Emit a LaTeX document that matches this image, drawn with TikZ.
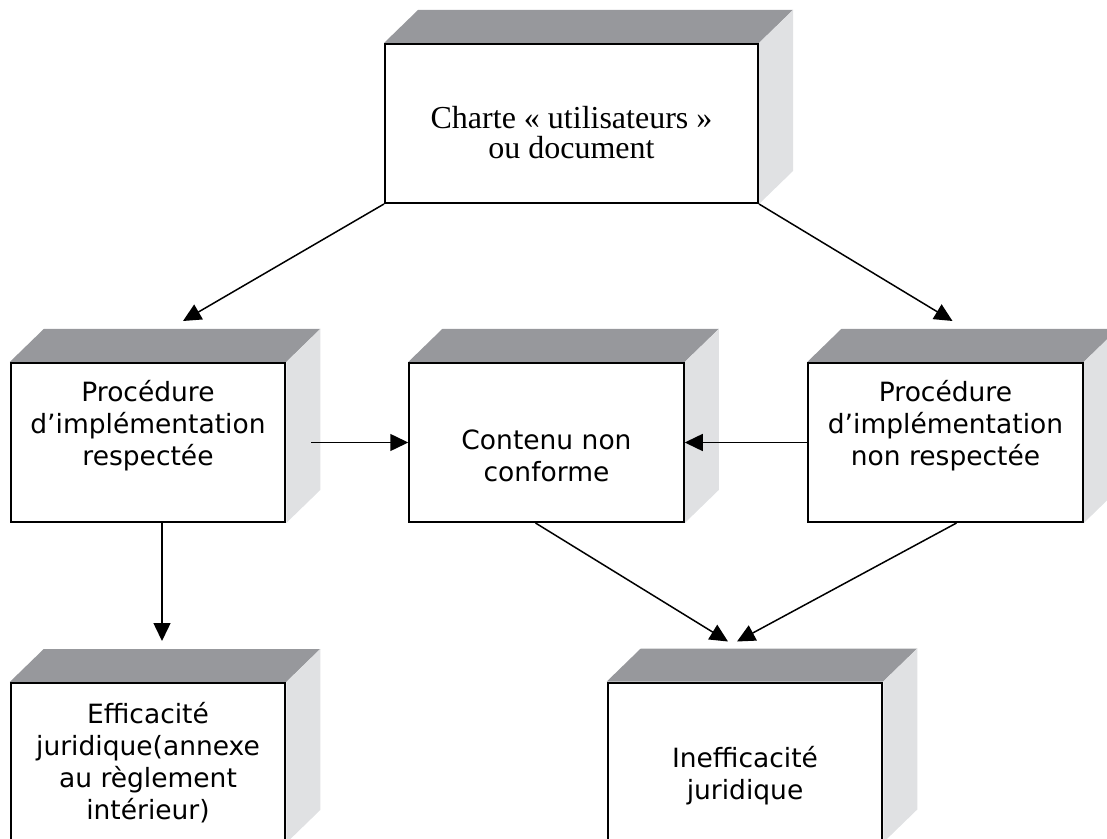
\documentclass[tikz,border=0pt]{standalone}
\usepackage{fontspec}
\setmainfont{Liberation Serif}
\newfontfamily\boxfont{DejaVu Sans}
\usetikzlibrary{arrows.meta,calc,backgrounds}
\definecolor{topgray}{RGB}{151,152,156}
\definecolor{sidegray}{RGB}{224,225,227}
\tikzset{
  front/.style={draw, line width=1pt, fill=white, inner sep=0pt, minimum width=137.25pt, minimum height=79.5pt},
  lbl/.style={align=center, inner sep=0pt, font=\boxfont\fontsize{13.25}{16}\selectfont},
  arr/.style={line width=0.75pt, -{Triangle[length=9pt,width=8.5pt]}}
}
\begin{document}
\begin{tikzpicture}[x=0.5pt,y=-0.5pt]
\useasboundingbox (0,0) rectangle (1107,839);
\clip (0,0) rectangle (1107,839);

\node[front, minimum width=186.5pt] (ch) at (571.5,123.5) {};
\node[front] (pr) at (148,442.5) {};
\node[front] (cn) at (546.5,442.5) {};
\node[front] (pn) at (945.5,442.5) {};
\node[front] (ej) at (148,762.5) {};
\node[front] (ij) at (745,762) {};

% top and side faces
\begin{scope}[on background layer]
\foreach \b in {ch,pr,cn,pn,ej,ij}{
  \fill[topgray] (\b.north west) -- (\b.north east) -- ++(34,-33) -- ($(\b.north west)+(34,-33)$) -- cycle;
  \fill[sidegray] (\b.north east) -- (\b.south east) -- ++(34,-33) -- ($(\b.north east)+(34,-33)$) -- cycle;
}
\end{scope}

\node[lbl, font=\fontsize{16}{15}\selectfont] (tch) at ($(ch)+(0,9)$) {Charte « utilisateurs »\\ou document};
\node[lbl] (tpr) at ($(pr)+(0,-17)$) {Procédure\\d’implémentation\\respectée};
\node[lbl] (tcn) at ($(cn)+(0,13)$) {Contenu non\\conforme};
\node[lbl] (tpn) at ($(pn)+(0,-17)$) {Procédure\\d’implémentation\\non respectée};
\node[lbl] (tej) at (ej) {Efficacité\\juridique(annexe\\au règlement\\intérieur)};
\node[lbl] (tij) at ($(ij)+(0,14)$) {Inefficacité\\juridique};

\draw[arr] (ch.south west) -- ($(pr.north)+(35,-41)$);
\draw[arr] (ch.south east) -- ($(pn.north)+(7,-41)$);
\draw[arr] ($(pr.east)+(25,0)$) -- (cn.west);
\draw[arr] (pn.west) -- (cn.east);
\draw[arr] ($(pr.south)+(14,0)$) -- ($(ej.north)+(14,-41)$);
\draw[arr] ($(cn.south)+(-11,0)$) -- ($(ij.north)+(-17,-40)$);
\draw[arr] ($(pn.south)+(11,0)$) -- ($(ij.north)+(-8,-40)$);
\end{tikzpicture}
\end{document}
